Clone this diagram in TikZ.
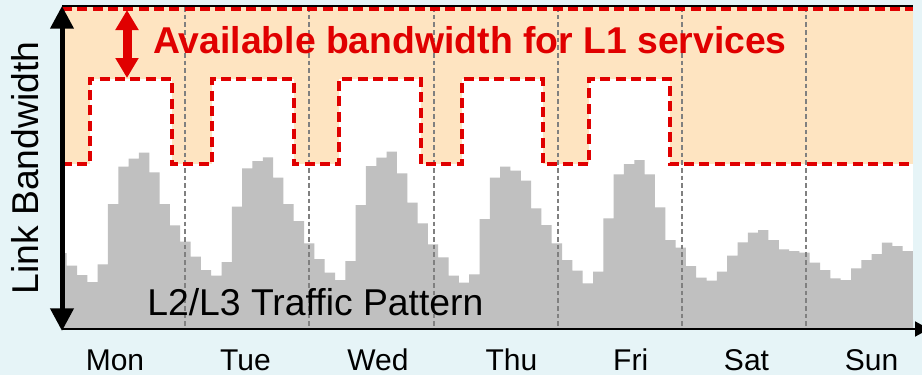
\documentclass[tikz,border=0pt]{standalone}
\usepackage{fontspec}
\setmainfont{Liberation Sans}
\usepackage{xcolor}
\usetikzlibrary{arrows.meta}
\definecolor{bgcyan}{RGB}{230,244,247}
\definecolor{spare}{RGB}{254,228,193}
\definecolor{l1red}{RGB}{224,0,0}
\definecolor{load}{RGB}{192,192,192}

\begin{document}
\begin{tikzpicture}[x=0.75pt, y=-0.75pt,
    big/.style={font=\fontsize{28}{30}\selectfont, inner sep=0pt},
    daylab/.style={font=\fontsize{22.5}{24}\selectfont, inner sep=0pt, anchor=base},
    daysep/.style={draw=black!50, line width=0.9pt, dash pattern=on 3.5pt off 2.25pt},
    l1edge/.style={draw=l1red, line width=2.4pt, dash pattern=on 7.5pt off 4pt},
    frame/.style={line width=1.5pt},
    yaxis/.style={line width=3.75pt, {Triangle[length=17pt,width=17pt]}-{Triangle[length=17pt,width=17pt]}},
    xaxis/.style={frame, -{Triangle[length=10.5pt,width=11.25pt]}},
    gaparr/.style={l1red, line width=6.75pt, {Triangle[length=15pt,width=16.5pt]}-{Triangle[length=15pt,width=16.5pt]}}]
  \fill[bgcyan] (0,0) rectangle (922,375);
  \useasboundingbox (0,0) rectangle (922,375);
  \fill[white] (62,7) rectangle (913,329);
  \fill[spare] (62,7) rectangle (913,164);
  \foreach \a/\b in {90/172, 212/294, 339/421, 462/543, 589/670}
    \fill[white] (\a,79) rectangle (\b,164.5);

  \fill[load] (62,329) -- (62,253) -- (66.7,253)
    \foreach \h [count=\i from 0] in {265.7,275,282,264.3,204,166.7,158.7,152.7,172.3,204,
        225.3,241.7,256.7,270,275.7,262,206.7,168.3,161,157.3,177.7,204,
        221,243.3,259,272.7,280,261,205,166,157.7,151.7,173.3,202.7,
        223.3,244.3,257.3,275.7,282.7,274.3,219,177.7,166.7,170.7,180.7,208.3,
        225,243.3,260,270.7,283.3,271.7,218.3,174.3,164,160,174.3,207.3,
        240,247.7,266,277.7,280.7,271.7,255.7,242.3,232.7,230,240,249.3,
        251,252.7,262.7,270,278.3,280,268.3,260,254,242.7,246,251}
      { -- ({66.7+10.32*\i},\h) -- ({66.7+10.32*(\i+1)},\h) }
    -- (913,329) -- cycle;

  \foreach \x in {185,309,434,558,682,806}
    \draw[daysep] (\x,7) -- (\x,328);

  \draw[l1edge] (62,9) -- (913,9);
  \draw[l1edge] (62,164)
    \foreach \a/\b in {90/172, 212/294, 339/421, 462/543, 589/670}
      { -- (\a,164) -- (\a,79) -- (\b,79) -- (\b,164) }
    -- (913,164);

  \coordinate (ytop) at (62,6);
  \coordinate (ybot) at (62,331);
  \coordinate (O) at (62,329);
  \coordinate (xend) at (929,329);
  \coordinate (topright) at (913,6);
  \coordinate (gaptop) at (127,10);
  \coordinate (gapbot) at (127,78);
  \draw[frame] (ytop) -- (topright);
  \draw[xaxis] (O) -- (xend);
  \draw[yaxis] (ybot) -- (ytop);
  \draw[gaparr] (gaptop) -- (gapbot);

  \node[big, font=\fontsize{28}{30}\selectfont\bfseries, text=l1red, anchor=base west] (avail) at (153,53)
    {Available bandwidth for L1 services};
  \node[big, anchor=base west] (traffic) at (147,315) {L2/L3 Traffic Pattern};
  \node[big, rotate=90, anchor=base] (ylab) at (38.3,168) {Link Bandwidth};
  \foreach \d/\x in {Mon/115, Tue/245.5, Wed/378, Thu/511.5, Fri/630.7, Sat/746.5, Sun/871.5}
    \node[daylab] (\d) at (\x,370) {\d};
\end{tikzpicture}
\end{document}
